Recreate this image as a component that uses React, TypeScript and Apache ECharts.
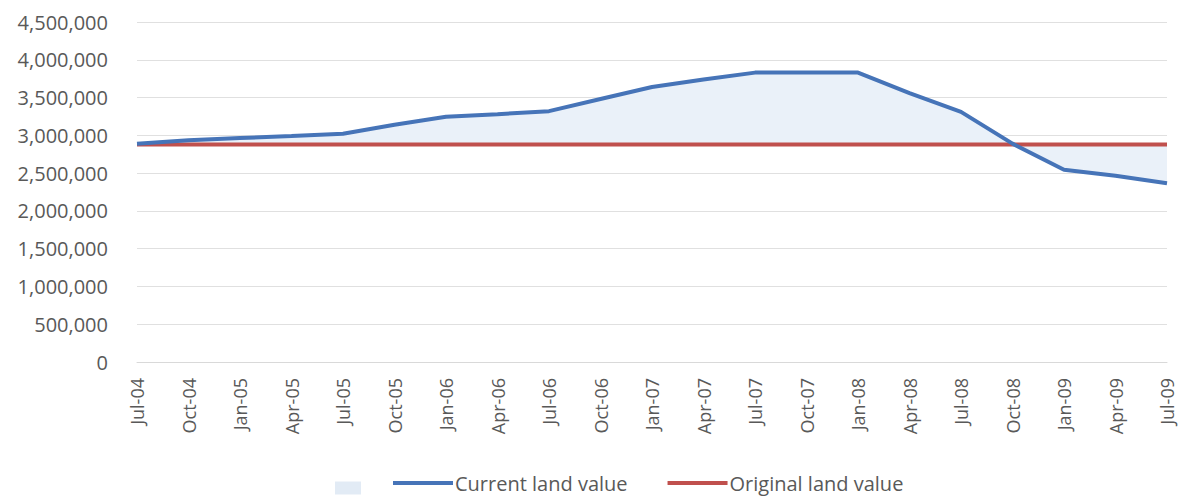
import React, { useEffect, useRef } from "react";
import * as echarts from "echarts";

const categories = [
  "Jul-04", "Oct-04", "Jan-05", "Apr-05", "Jul-05", "Oct-05", "Jan-06",
  "Apr-06", "Jul-06", "Oct-06", "Jan-07", "Apr-07", "Jul-07", "Oct-07",
  "Jan-08", "Apr-08", "Jul-08", "Oct-08", "Jan-09", "Apr-09", "Jul-09",
];

const currentLandValue = [
  2890000, 2935000, 2965000, 2990000, 3020000, 3140000, 3245000,
  3280000, 3320000, 3480000, 3640000, 3740000, 3830000, 3830000,
  3830000, 3560000, 3310000, 2890000, 2545000, 2465000, 2365000,
];

const originalLandValue = categories.map(() => 2880000);

const yTicks = { min: 0, max: 4500000, interval: 500000 };

const bandBase = currentLandValue.map((v, i) => Math.min(v, originalLandValue[i]));
const bandSize = currentLandValue.map((v, i) => Math.abs(v - originalLandValue[i]));

const FONT = "Open Sans";

export default function App() {
  const ref = useRef<HTMLDivElement>(null);
  useEffect(() => {
    if (!ref.current) return;
    const chart = echarts.init(ref.current, undefined, { renderer: "svg" });
    chart.setOption({
      animation: false,
      backgroundColor: "#ffffff",
      grid: { left: 137, right: 17, top: 22, bottom: 135, containLabel: false },
      xAxis: {
        type: "category",
        data: categories,
        boundaryGap: false,
        axisLine: { lineStyle: { color: "#d9d9d9", width: 1 } },
        axisTick: { show: false },
        axisLabel: {
          rotate: 90,
          margin: 16,
          color: "#595959",
          fontFamily: FONT,
          fontSize: 18,
          interval: 0,
        },
        splitLine: { show: false },
      },
      yAxis: {
        type: "value",
        min: yTicks.min,
        max: yTicks.max,
        interval: yTicks.interval,
        axisLine: { show: false },
        axisTick: { show: false },
        axisLabel: {
          margin: 29,
          color: "#595959",
          fontFamily: FONT,
          fontSize: 20,
          formatter: (v: number) => v.toLocaleString("en-US"),
        },
        splitLine: { lineStyle: { color: "#e0e0e0", width: 1 } },
      },
      legend: [
        {
          data: [{ name: " ", icon: "rect" }],
          left: 330,
          top: 474,
          itemWidth: 26,
          itemHeight: 13,
          textStyle: { fontFamily: FONT, fontSize: 18 },
        },
        {
          data: [
            { name: "Current land value", icon: "rect" },
            { name: "Original land value", icon: "rect" },
          ],
          left: 388,
          top: 468,
          itemWidth: 60,
          itemHeight: 4,
          itemGap: 40,
          textStyle: { fontFamily: FONT, fontSize: 20, color: "#595959", padding: [0, 0, 0, -3] },
        },
      ],
      series: [
        {
          name: "base",
          type: "line",
          stack: "band",
          data: bandBase,
          symbol: "none",
          lineStyle: { width: 0, opacity: 0 },
          areaStyle: { opacity: 0 },
          silent: true,
        },
        {
          name: " ",
          type: "line",
          stack: "band",
          data: bandSize,
          symbol: "none",
          color: "#e2ebf5",
          lineStyle: { width: 0, opacity: 0 },
          areaStyle: { color: "#eaf1f9", opacity: 1 },
          silent: true,
        },
        {
          name: "Current land value",
          type: "line",
          data: currentLandValue,
          symbol: "none",
          color: "#4674b8",
          lineStyle: { color: "#4674b8", width: 4 },
          z: 4,
        },
        {
          name: "Original land value",
          type: "line",
          data: originalLandValue,
          symbol: "none",
          color: "#c0504d",
          lineStyle: { color: "#c0504d", width: 4 },
          z: 3,
        },
      ],
    });
    return () => chart.dispose();
  }, []);
  return <div ref={ref} style={{ width: 1184, height: 497, position: "absolute", left: 0, top: 0 }} />;
}
